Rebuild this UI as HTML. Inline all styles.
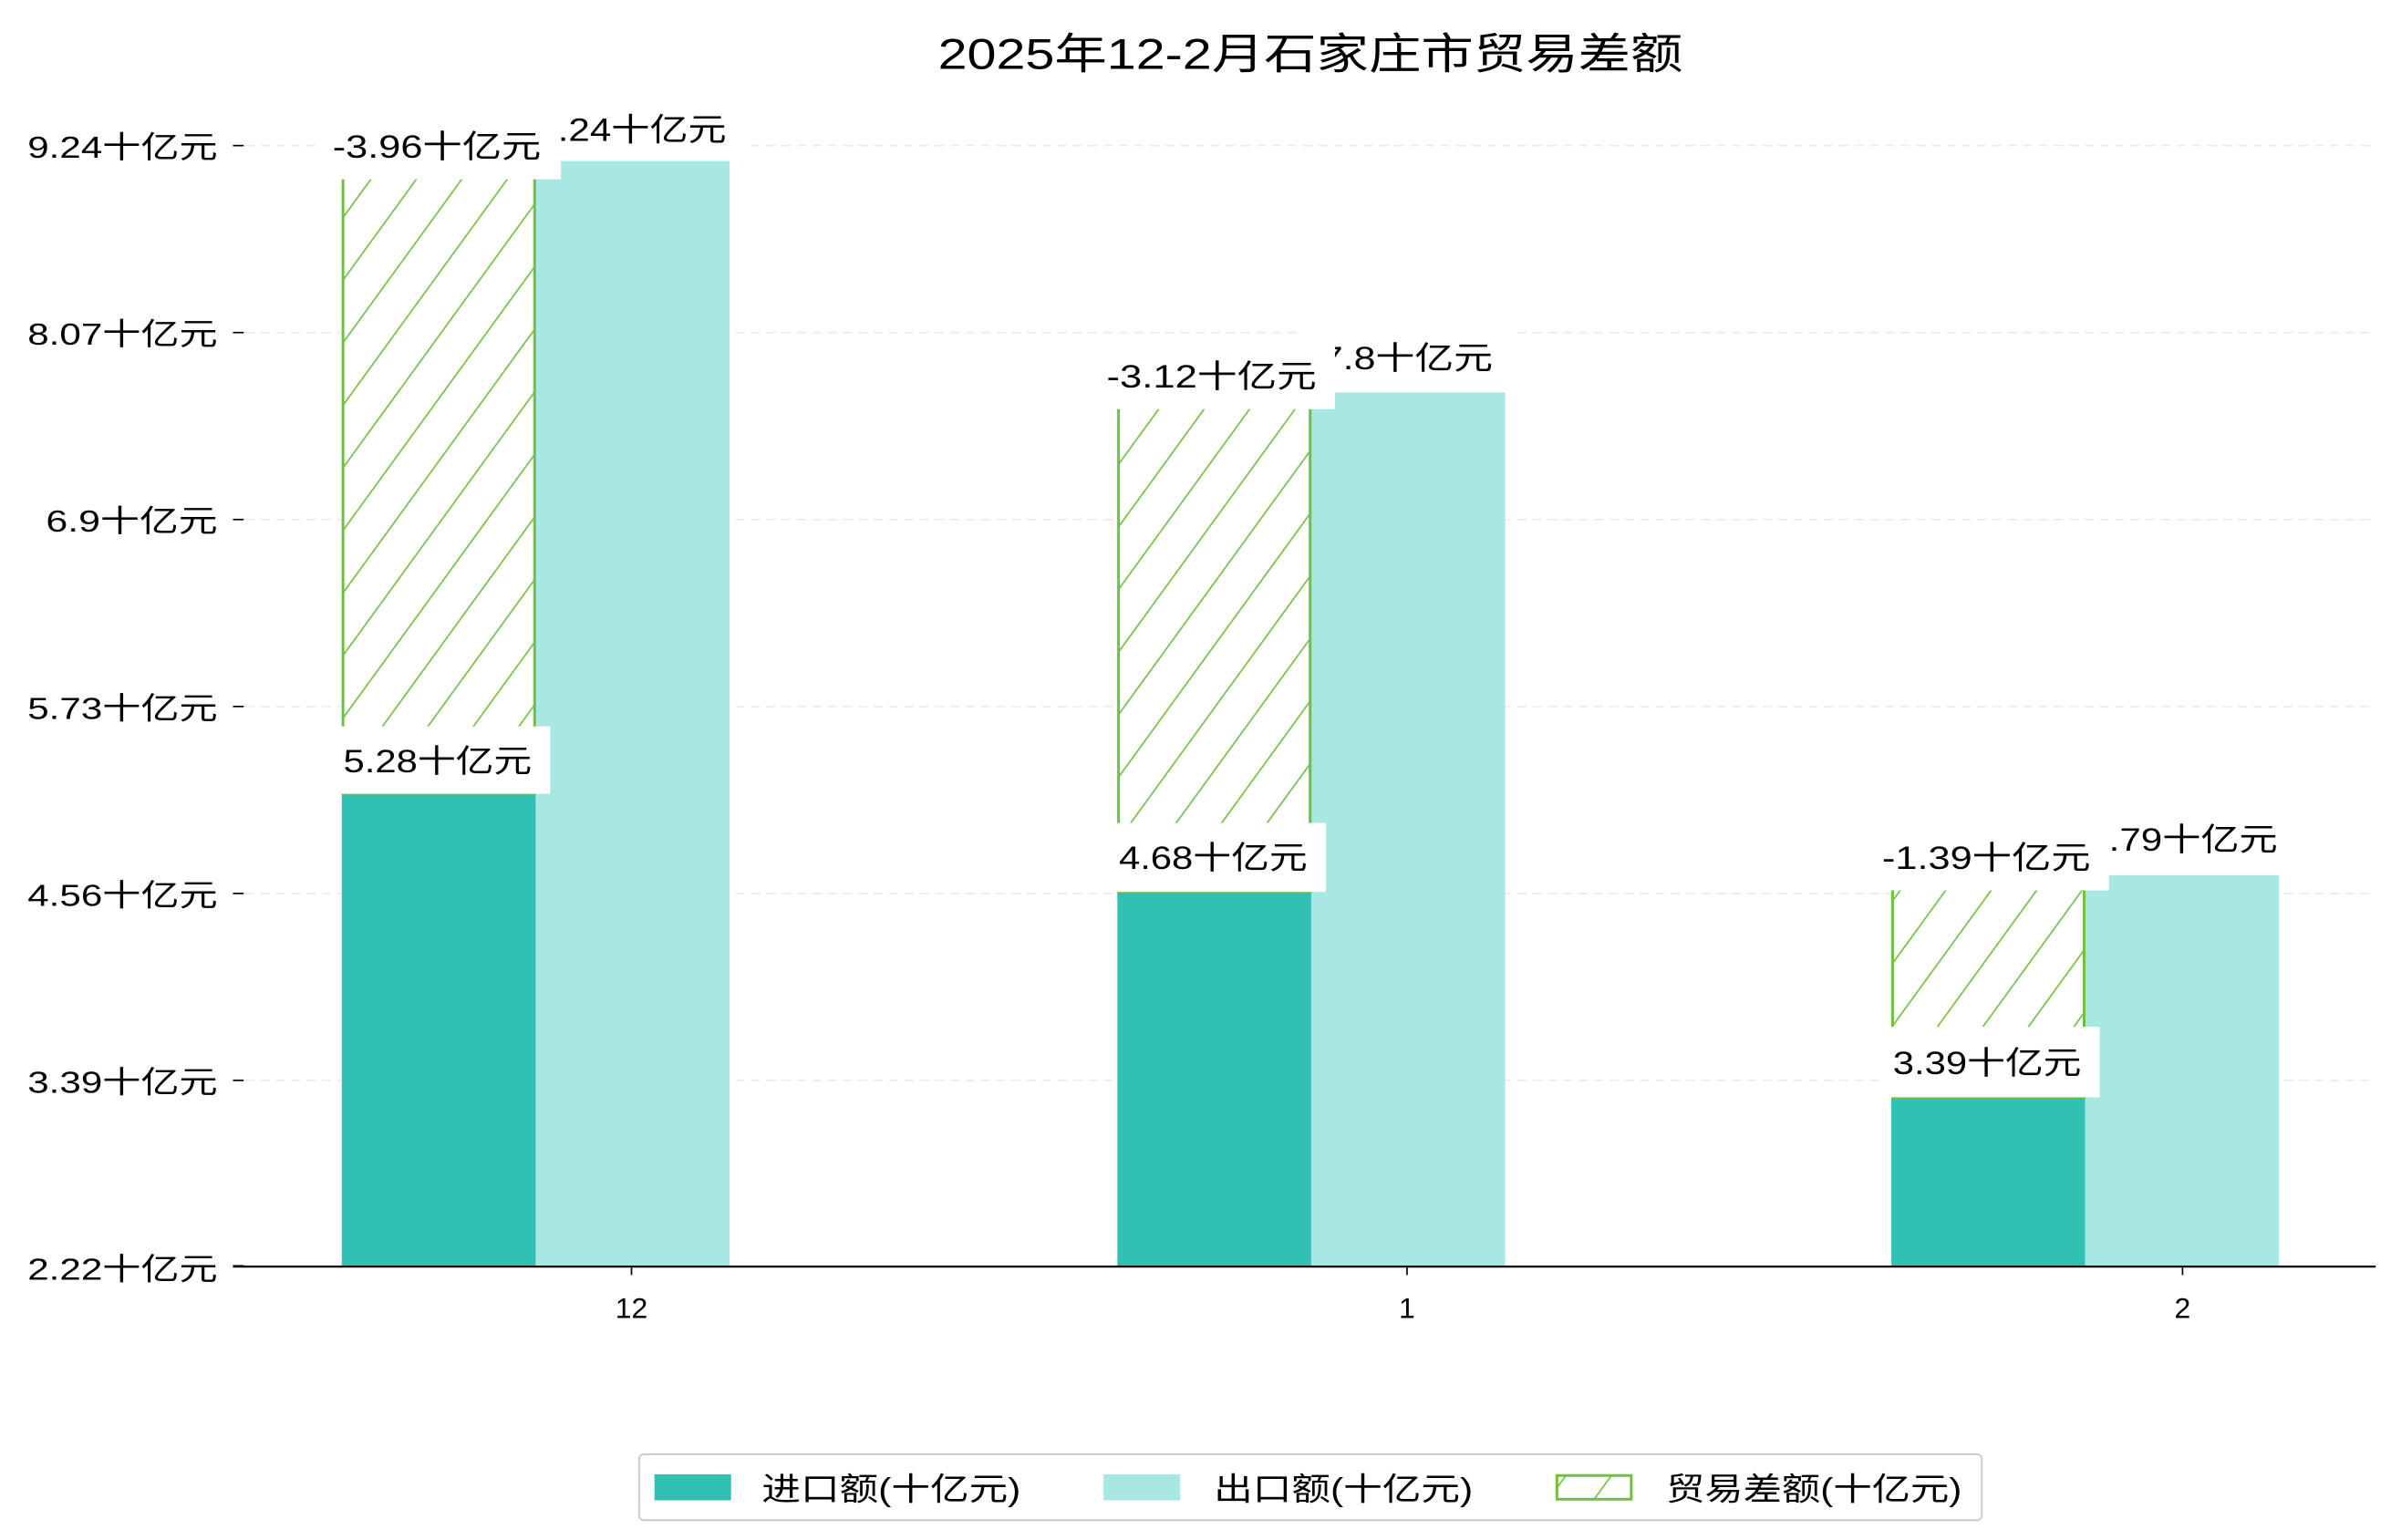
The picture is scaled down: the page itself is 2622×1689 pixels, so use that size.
<!DOCTYPE html>
<html><head><meta charset="utf-8"><style>html,body{margin:0;padding:0;background:#fff}svg{display:block}</style></head><body>
<svg width="2622" height="1689" viewBox="0 0 1560 1004.9" xmlns="http://www.w3.org/2000/svg" font-family="'Liberation Sans','WenQuanYi Zen Hei',sans-serif">
<defs>
<pattern id="h" patternUnits="userSpaceOnUse" width="24" height="24" patternTransform="rotate(36)">
<rect width="24" height="24" fill="#fff"/><line x1="0" y1="0" x2="0" y2="24" stroke="#72bf42" stroke-width="2"/></pattern>
</defs>
<rect width="1560" height="1005" fill="#fff"/>
<text x="612" y="45" font-size="28" textLength="486" lengthAdjust="spacingAndGlyphs">2025年12-2月石家庄市贸易差额</text>
<g stroke="#ebebeb" stroke-dasharray="6,4" stroke-width="1">
<line x1="160" y1="95" x2="1550" y2="95"/><line x1="160" y1="217" x2="1550" y2="217"/><line x1="160" y1="339" x2="1550" y2="339"/><line x1="160" y1="461" x2="1550" y2="461"/><line x1="160" y1="583" x2="1550" y2="583"/><line x1="160" y1="705" x2="1550" y2="705"/></g>
<g font-size="20">
<text x="18" y="103" textLength="124" lengthAdjust="spacingAndGlyphs">9.24十亿元</text>
<text x="18" y="225" textLength="124" lengthAdjust="spacingAndGlyphs">8.07十亿元</text>
<text x="30" y="347" textLength="112" lengthAdjust="spacingAndGlyphs">6.9十亿元</text>
<text x="18" y="469" textLength="124" lengthAdjust="spacingAndGlyphs">5.73十亿元</text>
<text x="18" y="591" textLength="124" lengthAdjust="spacingAndGlyphs">4.56十亿元</text>
<text x="18" y="713" textLength="124" lengthAdjust="spacingAndGlyphs">3.39十亿元</text>
<text x="18" y="835" textLength="124" lengthAdjust="spacingAndGlyphs">2.22十亿元</text></g>
<g stroke="#000" stroke-width="1"><line x1="152" y1="95" x2="159" y2="95"/><line x1="152" y1="217" x2="159" y2="217"/><line x1="152" y1="339" x2="159" y2="339"/><line x1="152" y1="461" x2="159" y2="461"/><line x1="152" y1="583" x2="159" y2="583"/><line x1="152" y1="705" x2="159" y2="705"/><line x1="152" y1="826" x2="159" y2="826"/>
<line x1="412" y1="826" x2="412" y2="832"/><line x1="918" y1="826" x2="918" y2="832"/><line x1="1424" y1="826" x2="1424" y2="832"/></g>
<rect x="223" y="518" width="126.5" height="308" fill="#30c0b4"/>
<rect x="349.5" y="105" width="126.5" height="721" fill="#a8e8e2"/>
<rect x="223.8" y="105" width="125" height="413" fill="url(#h)" stroke="#72bf42" stroke-width="1.8"/>
<rect x="729" y="582" width="126.5" height="244" fill="#30c0b4"/>
<rect x="855.5" y="256" width="126.5" height="570" fill="#a8e8e2"/>
<rect x="729.8" y="256" width="125" height="326" fill="url(#h)" stroke="#72bf42" stroke-width="1.8"/>
<rect x="1234" y="716" width="126.5" height="110" fill="#30c0b4"/>
<rect x="1360.5" y="571" width="126.5" height="255" fill="#a8e8e2"/>
<rect x="1234.8" y="571" width="125" height="145" fill="url(#h)" stroke="#72bf42" stroke-width="1.8"/>
<line x1="152" y1="826.5" x2="1550" y2="826.5" stroke="#000" stroke-width="1.3"/>
<g font-size="21">
<rect x="338" y="62" width="148" height="43" fill="#fff"/><text x="350" y="92" textLength="124" lengthAdjust="spacingAndGlyphs">9.24十亿元</text>
<rect x="213" y="474" width="146" height="44" fill="#fff"/><text x="224" y="504" textLength="123" lengthAdjust="spacingAndGlyphs">5.28十亿元</text>
<rect x="208" y="73" width="158" height="44" fill="#fff"/><text x="217" y="103" textLength="136" lengthAdjust="spacingAndGlyphs">-3.96十亿元</text>
<rect x="850" y="211" width="136" height="45" fill="#fff"/><text x="862" y="241" textLength="112" lengthAdjust="spacingAndGlyphs">7.8十亿元</text>
<rect x="720" y="537" width="145" height="45" fill="#fff"/><text x="730" y="567" textLength="123" lengthAdjust="spacingAndGlyphs">4.68十亿元</text>
<rect x="714" y="223" width="157" height="44" fill="#fff"/><text x="722" y="253" textLength="137" lengthAdjust="spacingAndGlyphs">-3.12十亿元</text>
<rect x="1352" y="526" width="148" height="45" fill="#fff"/><text x="1362" y="555" textLength="124" lengthAdjust="spacingAndGlyphs">4.79十亿元</text>
<rect x="1226" y="670" width="144" height="46" fill="#fff"/><text x="1235" y="701" textLength="123" lengthAdjust="spacingAndGlyphs">3.39十亿元</text>
<rect x="1220" y="537" width="156" height="44" fill="#fff"/><text x="1228" y="567" textLength="136" lengthAdjust="spacingAndGlyphs">-1.39十亿元</text>
</g>
<g font-size="19" text-anchor="middle"><text x="412" y="860">12</text><text x="918" y="860">1</text><text x="1424" y="860">2</text></g>
<rect x="417" y="949" width="876" height="43" rx="3" fill="#fff" stroke="#cccccc" stroke-width="1.2"/>
<rect x="427" y="962" width="50" height="17" fill="#30c0b4"/>
<rect x="720" y="962" width="50" height="17" fill="#a8e8e2"/>
<rect x="1015.8" y="962.8" width="48.5" height="15.5" fill="url(#h)" stroke="#72bf42" stroke-width="1.8"/>
<g font-size="21"><text x="497" y="979" textLength="169" lengthAdjust="spacingAndGlyphs">进口额(十亿元)</text><text x="792" y="979" textLength="169" lengthAdjust="spacingAndGlyphs">出口额(十亿元)</text><text x="1087" y="979" textLength="193" lengthAdjust="spacingAndGlyphs">贸易差额(十亿元)</text></g>
</svg>
</body></html>
